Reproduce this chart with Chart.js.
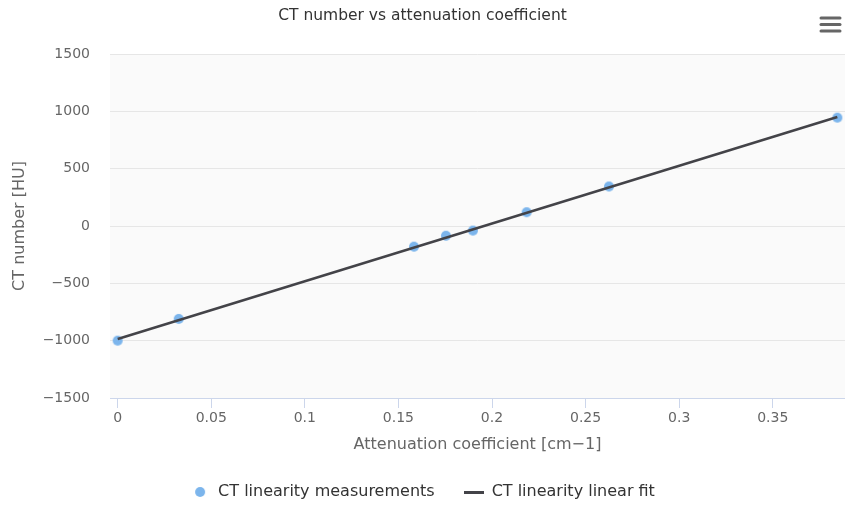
<!DOCTYPE html>
<html>
<head>
<meta charset="utf-8">
<script src="https://cdn.jsdelivr.net/npm/chart.js@4/dist/chart.umd.min.js"></script>
<style>
html,body{margin:0;padding:0;background:#fff;}
#wrap{width:845px;height:510px;}
</style>
</head>
<body>
<div id="wrap"><canvas id="c" width="845" height="510"></canvas></div>
<script>
// Data
const attenuation = [0, 0.0326, 0.1583, 0.1754, 0.1898, 0.2185, 0.2625, 0.3845];
const ctNumber = [-1000, -810, -180, -85, -40, 120, 345, 945];
const fitX = [0, 0.3845];
const fitY = [-985, 950];
const xTicks = [0, 0.05, 0.1, 0.15, 0.2, 0.25, 0.3, 0.35];
const yTicks = [-1500, -1000, -500, 0, 500, 1000, 1500];

const FONT = "'DejaVu Sans', sans-serif";

function makeCircle(r, color) {
  const c = document.createElement('canvas');
  c.width = 2 * r + 2; c.height = 2 * r + 2;
  const g = c.getContext('2d');
  g.fillStyle = color; g.beginPath(); g.arc(r + 1, r + 1, r, 0, Math.PI * 2); g.fill();
  return c;
}
function makeLine(w, h, color) {
  const c = document.createElement('canvas');
  c.width = w; c.height = h;
  const g = c.getContext('2d');
  g.fillStyle = color; g.fillRect(0, 0, w, h);
  return c;
}

const plotBg = {
  id: 'plotBg',
  beforeDraw(chart) {
    const {ctx, chartArea: a} = chart;
    ctx.save(); ctx.fillStyle = '#fafafa';
    ctx.fillRect(a.left, a.top, a.right - a.left, a.bottom - a.top);
    ctx.restore();
  }
};
const menuIcon = {
  id: 'menuIcon',
  afterDraw(chart) {
    const ctx = chart.ctx;
    ctx.save(); ctx.strokeStyle = '#666'; ctx.lineWidth = 3; ctx.lineCap = 'round';
    [18, 24.5, 31].forEach(y => { ctx.beginPath(); ctx.moveTo(821, y); ctx.lineTo(840, y); ctx.stroke(); });
    ctx.restore();
  }
};

new Chart(document.getElementById('c'), {
  type: 'scatter',
  data: {
    datasets: [
      {
        label: 'CT linearity measurements',
        data: attenuation.map((x, i) => ({x, y: ctNumber[i]})),
        backgroundColor: '#7cb5ec',
        borderColor: '#7cb5ec',
        pointRadius: 5,
        pointHoverRadius: 5,
        pointStyle: makeCircle(5, '#7cb5ec'),
        order: 1
      },
      {
        type: 'line',
        label: 'CT linearity linear fit',
        data: fitX.map((x, i) => ({x, y: fitY[i]})),
        borderColor: '#434348',
        backgroundColor: '#434348',
        borderWidth: 2.5,
        pointRadius: 0,
        showLine: true,
        fill: false,
        pointStyle: makeLine(20, 3, '#434348'),
        order: 0
      }
    ]
  },
  options: {
    responsive: false,
    animation: false,
    layout: {autoPadding: false, padding: {left: 0, right: 0, top: 0, bottom: 0}},
    plugins: {
      title: {
        display: true,
        text: 'CT number vs attenuation coefficient',
        color: '#333',
        font: {family: FONT, size: 15.5, weight: 'normal'},
        padding: {top: 7, bottom: 28.4}
      },
      legend: {
        position: 'bottom',
        labels: {
          usePointStyle: true,
          pointStyleWidth: 20,
          padding: 29,
          color: '#333',
          font: {family: FONT, size: 16},
          sort: (a, b) => a.datasetIndex - b.datasetIndex
        }
      },
      tooltip: {enabled: false}
    },
    scales: {
      x: {
        type: 'linear',
        min: -0.0041,
        max: 0.3886,
        afterBuildTicks(scale) { scale.ticks = xTicks.map(v => ({value: v})); },
        afterFit(scale) { scale.height = 57; scale.paddingLeft = 0; scale.paddingRight = 0; },
        ticks: {
          color: '#666',
          font: {family: FONT, size: 14},
          padding: 2,
          maxRotation: 0,
          autoSkip: false,
          callback: v => String(v)
        },
        grid: {drawOnChartArea: false, drawTicks: true, tickLength: 10, color: '#ccd6eb', lineWidth: 1},
        border: {display: true, color: '#ccd6eb', width: 1},
        title: {
          display: true,
          text: 'Attenuation coefficient [cm\u22121]',
          color: '#666',
          font: {family: FONT, size: 16},
          padding: {top: 0, bottom: 1}
        }
      },
      y: {
        type: 'linear',
        min: -1500,
        max: 1500,
        afterBuildTicks(scale) { scale.ticks = yTicks.map(v => ({value: v})); },
        afterFit(scale) { scale.width = 110; },
        ticks: {
          color: '#666',
          font: {family: FONT, size: 14},
          padding: 20,
          callback: v => (v < 0 ? '\u2212' + Math.abs(v) : String(v))
        },
        grid: {color: '#e6e6e6', drawTicks: false, lineWidth: 1},
        border: {display: false},
        title: {
          display: true,
          text: 'CT number [HU]',
          color: '#666',
          font: {family: FONT, size: 16},
          padding: {top: 10, bottom: 0}
        }
      }
    }
  },
  plugins: [plotBg, menuIcon]
});
</script>
</body>
</html>
